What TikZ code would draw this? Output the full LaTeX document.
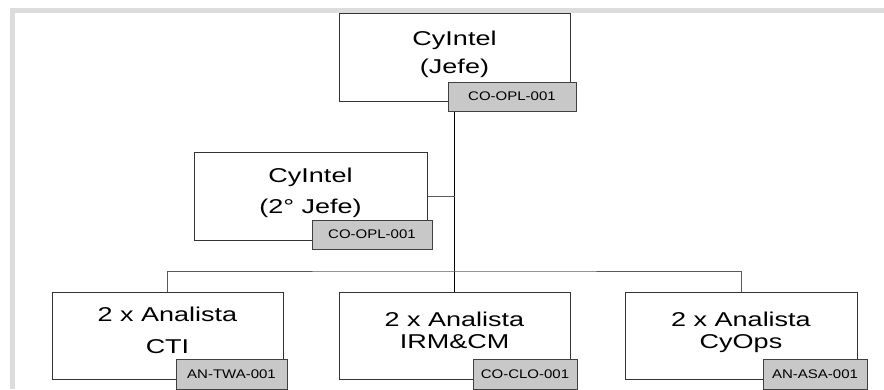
\documentclass[tikz,border=0pt]{standalone}
\usepackage{fontspec}
\usepackage{tikz}
\newfontfamily\boxfont[FakeStretch=1.35]{Liberation Sans}
\newfontfamily\tagfont[FakeStretch=1.2]{Liberation Sans}
\definecolor{framegray}{HTML}{DCDCDC}
\definecolor{taggray}{HTML}{C8C8C8}
\definecolor{linegray}{HTML}{5A5A5A}

\begin{document}
\begin{tikzpicture}[x=1pt,y=-1pt,
  postbox/.style={draw=black!80,fill=white,line width=1pt,align=center,
    minimum width=231pt,minimum height=87pt,inner sep=0pt,
    font=\boxfont\fontsize{20}{22}\selectfont,
    execute at end node={\rule[-10pt]{0pt}{0pt}}},
  tagbox/.style={draw=black!75,fill=taggray,line width=1pt,inner sep=0pt,
    minimum height=29pt,anchor=south east,font=\tagfont\fontsize{12.5}{14}\selectfont},
  busline/.style={linegray,line width=1pt}]
\useasboundingbox (0,0) rectangle (884,389);
\fill[framegray] (10,8) rectangle (884,13);
\fill[framegray] (10,8) rectangle (15,389);

\node [postbox,minimum height=88pt] (jefe) at (454.5,57) {CyIntel\\[6pt](Jefe)};
\node [postbox,minimum width=233pt,minimum height=88pt] (sub) at (310.5,196) {CyIntel\\[9pt](2° Jefe)};

\node [postbox] (cti) at (167.5,335.5) {2 x Analista\\[9.7pt]CTI};
\node [postbox] (irm) at (454.5,335.5) {2 x Analista\\IRM\&CM};
\node [postbox,minimum width=232pt] (cyops) at (741,335.5) {2 x Analista\\CyOps};
\coordinate (bus) at (454.5,271);

\draw [line width=1.3pt] (jefe.south) -- (irm.north);
\draw [busline] (sub.east) -- (sub.east -| jefe.south);
\draw [busline] (cti.north) |- (bus) -| (cyops.north);

%codes
\node [tagbox,minimum width=128pt] (jefecode) at ([shift={(6,10)}]jefe.south east) {CO-OPL-001};
\node [tagbox,minimum width=120pt] (subcode) at ([shift={(5,9)}]sub.south east) {CO-OPL-001};
\node [tagbox,minimum width=111pt,minimum height=30pt] (cticode) at ([shift={(4,10)}]cti.south east) {AN-TWA-001};
\node [tagbox,minimum width=104pt,minimum height=30pt] (irmcode) at ([shift={(7,10)}]irm.south east) {CO-CLO-001};
\node [tagbox,minimum width=104pt,minimum height=30pt] (cyopscode) at ([shift={(10,10)}]cyops.south east) {AN-ASA-001};
\end{tikzpicture}
\end{document}
